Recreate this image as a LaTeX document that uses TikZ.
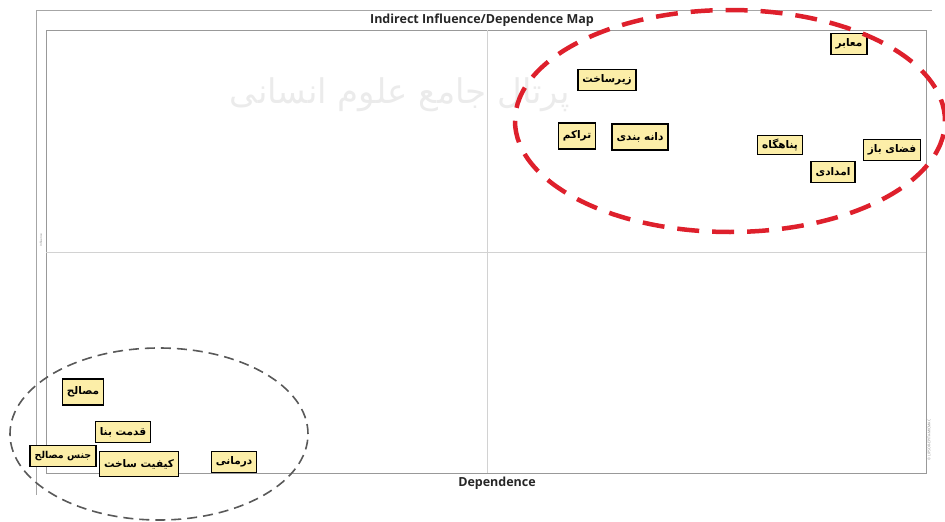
\documentclass[tikz,border=0pt]{standalone}
\usepackage{fontspec}
\setmainfont{Open Sans}
\newfontfamily\arabicfont[Script=Arabic]{DejaVu Sans}
\TeXXeTstate=1
\definecolor{boxyellow}{RGB}{252,238,168}
\definecolor{ringred}{RGB}{222,32,44}
\tikzset{
  factor/.style={draw=black, line width=1.5pt, fill=boxyellow,
    font=\arabicfont\bfseries\fontsize{10.5}{12}\selectfont,
    inner xsep=4.5pt, inner ysep=2pt, minimum height=21pt},
  axislabel/.style={font=\bfseries\fontsize{12.5}{14}\selectfont, text=black!85}
}
\begin{document}
\begin{tikzpicture}[x=1pt, y=-1pt, semithick]
            \useasboundingbox (0,0) rectangle (945,522);
            \node[gray!16] (mark) at (400,95)
              {\arabicfont\fontsize{34}{36}\selectfont\beginR پرتال جامع علوم انسانی\endR};
            \draw[gray!70] (36,495) -- (36,10) -- (932,10);
            \draw[gray!80, line width=0.8pt] (46,30) rectangle (926,473);
            \draw[gray!35] (487,30) -- (487,473);
            \draw[gray!35] (46,252) -- (926,252);
            \node[axislabel] (title) at (482,20) {Indirect Influence/Dependence Map};
            \node[axislabel] (xlabel) at (497,483) {Dependence};
            \node[rotate=90, font=\fontsize{3}{3}\selectfont, text=gray] (ylabel) at (41,240) {Influence};
            \node[rotate=90, font=\fontsize{3.5}{4}\selectfont, text=gray] (credit) at (929,440) {© LIPSOR-EPITA-MICMAC};
            \node[factor] (maaber) at (849,44) {\beginR معابر\endR};
            \node[factor] (zirsakht) at (607,80) {\beginR زیرساخت\endR};
            \node[factor, minimum height=26pt] (tarakom) at (577,136) {\beginR تراکم\endR};
            \node[factor, minimum height=26pt] (danebandi) at (640,137) {\beginR دانه بندی\endR};
            \node[factor, minimum height=19pt] (panahgah) at (780,145) {\beginR پناهگاه\endR};
            \node[factor] (fazabaz) at (892,150) {\beginR فضای باز\endR};
            \node[factor] (emdadi) at (833,172) {\beginR امدادی\endR};
            \node[factor, minimum height=26pt] (masaleh) at (83,392) {\beginR مصالح\endR};
            \node[factor] (ghedmat) at (123,432) {\beginR قدمت بنا\endR};
            \node[factor, font=\arabicfont\bfseries\fontsize{9.5}{11}\selectfont] (jens) at (63,456) {\beginR جنس مصالح\endR};
            \node[factor, minimum height=25pt] (keyfiyat) at (139,464) {\beginR کیفیت ساخت\endR};
            \node[factor] (darmani) at (234,462) {\beginR درمانی\endR};
            \draw[ringred, line width=4.5pt, dash pattern=on 22pt off 13pt] (730,121) ellipse [x radius=215pt, y radius=111pt];
            \draw[gray!70!black, line width=1.6pt, dash pattern=on 10pt off 6pt] (159,434) ellipse [x radius=149pt, y radius=86pt];
        \end{tikzpicture}
\end{document}
